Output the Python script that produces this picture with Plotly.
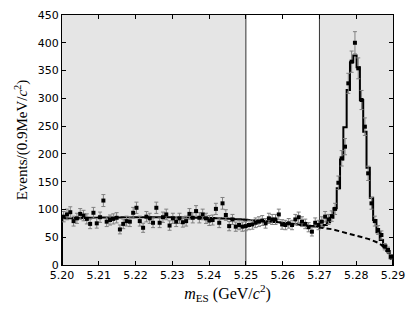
import numpy as np
import plotly.graph_objects as go

# ---- data ----
bin_lo = 5.200
bin_width = 0.0009
n_bins = 100

events = [87, 91, 95, 79, 84, 92, 89, 83, 74, 94,
          75, 86, 116, 78, 81, 83, 85, 64, 74, 79,
          78, 94, 103, 79, 67, 87, 84, 76, 103, 76,
          86, 91, 71, 84, 78, 84, 77, 79, 92, 85,
          97, 85, 91, 84, 80, 81, 101, 76, 111, 90,
          70, 82, 69, 72, 69, 70, 72, 73, 76, 78,
          80, 75, 84, 82, 82, 91, 73, 72, 75, 72,
          82, 86, 78, 74, 68, 60, 76, 72, 78, 87,
          82, 88, 101, 148, 192, 213, 327, 366, 400, 354,
          297, 249, 165, 111, 79, 63, 54, 33, 27, 15]

background = [84.0, 84.1, 84.3, 84.4, 84.5, 84.6, 84.7, 84.9, 85.0, 85.1,
              85.2, 85.3, 85.4, 85.5, 85.5, 85.6, 85.7, 85.7, 85.8, 85.8,
              85.9, 85.9, 85.9, 86.0, 86.0, 86.0, 86.0, 86.0, 85.9, 85.9,
              85.9, 85.9, 85.8, 85.8, 85.7, 85.6, 85.5, 85.4, 85.3, 85.2,
              85.1, 85.0, 84.9, 84.7, 84.6, 84.4, 84.2, 84.0, 83.8, 83.5,
              83.1, 82.8, 82.5, 82.2, 81.8, 81.5, 81.1, 80.7, 80.3, 79.9,
              79.4, 78.9, 78.4, 77.9, 77.4, 76.8, 76.2, 75.6, 74.9, 74.2,
              73.5, 72.7, 71.9, 71.1, 70.2, 69.3, 68.5, 67.7, 67.0, 66.5,
              66.0, 64.5, 63.0, 61.5, 60.0, 58.2, 56.5, 54.8, 53.0, 51.5,
              50.0, 48.5, 47.0, 45.0, 43.0, 40.0, 36.0, 30.0, 22.0, 10.0]

fit_total = [84.0, 84.1, 84.3, 84.4, 84.5, 84.6, 84.7, 84.9, 85.0, 85.1,
             85.2, 85.3, 85.4, 85.5, 85.5, 85.6, 85.7, 85.7, 85.8, 85.8,
             85.9, 85.9, 85.9, 86.0, 86.0, 86.0, 86.0, 86.0, 85.9, 85.9,
             85.9, 85.9, 85.8, 85.8, 85.7, 85.6, 85.5, 85.4, 85.3, 85.2,
             85.1, 85.0, 84.9, 84.7, 84.6, 84.4, 84.2, 84.0, 83.8, 83.5,
             83.1, 82.8, 82.5, 82.2, 81.8, 81.5, 81.1, 80.7, 80.3, 79.9,
             79.4, 78.9, 78.4, 77.9, 77.4, 76.8, 76.2, 75.6, 74.9, 74.2,
             73.5, 72.8, 72.0, 71.3, 70.6, 70.0, 69.5, 69.0, 69.5, 72.0,
             77.0, 85.0, 102.0, 138.0, 190.0, 248.0, 315.0, 365.0, 377.0, 356.0,
             297.0, 240.0, 175.0, 121.0, 81.0, 59.0, 45.0, 35.0, 25.0, 12.0]

sideband_regions = [(5.20, 5.25), (5.27, 5.29)]
region_lines = [5.25, 5.27]
x_ticks = [5.20, 5.21, 5.22, 5.23, 5.24, 5.25, 5.26, 5.27, 5.28, 5.29]
x_tick_labels = ["5.20", "5.21", "5.22", "5.23", "5.24", "5.25", "5.26", "5.27", "5.28", "5.29"]
y_ticks = [0, 50, 100, 150, 200, 250, 300, 350, 400, 450]

# ---- derived ----
edges = bin_lo + bin_width * np.arange(n_bins + 1)
centers = edges[:-1] + bin_width / 2
ev = np.array(events, dtype=float)
err = np.sqrt(ev)

fig = go.Figure()

# fit (step histogram)
fx = [edges[0]] + list(edges[:-1]) + [edges[-1], edges[-1]]
fy = [0] + list(fit_total) + [fit_total[-1], 0]
fig.add_trace(go.Scatter(x=fx, y=fy, mode="lines", line=dict(color="black", width=2, shape="hv"),
                         showlegend=False, hoverinfo="skip", cliponaxis=False))

# background (dashed) in the signal region
start = 77
fig.add_trace(go.Scatter(x=centers[start:], y=background[start:], mode="lines",
                         line=dict(color="black", width=2, dash="5px,3px"), showlegend=False))

# data points
fig.add_trace(go.Scatter(x=centers, y=ev, mode="markers",
                         marker=dict(symbol="square", size=4, color="black"),
                         error_y=dict(type="data", array=err, color="#808080", thickness=1, width=2),
                         showlegend=False))

shapes = []
for a, b in sideband_regions:
    shapes.append(dict(type="rect", xref="x", yref="paper", x0=a, x1=b, y0=0, y1=1,
                       fillcolor="#e5e5e5", line=dict(width=0), layer="below"))
for v in region_lines:
    shapes.append(dict(type="line", xref="x", yref="paper", x0=v, x1=v, y0=0, y1=1,
                       line=dict(color="#333333", width=1), layer="below"))

fig.update_layout(
    width=415, height=312,
    margin=dict(l=62, r=22, t=15, b=47),
    paper_bgcolor="white", plot_bgcolor="white",
    shapes=shapes,
    font=dict(family="DejaVu Sans", size=11, color="black"),
)
fig.update_xaxes(range=[5.20, 5.29], tickvals=x_ticks, ticktext=x_tick_labels, automargin=False,
                 ticks="inside", ticklen=4, tickcolor="black", showline=True, linecolor="black",
                 linewidth=1, mirror="ticks", showgrid=False, zeroline=False,
                 title=dict(text="<i>m</i><sub>ES</sub> (GeV/<i>c</i><sup>2</sup>)",
                            font=dict(family="Liberation Serif", size=16), standoff=3))
fig.update_yaxes(range=[0, 450], tickvals=y_ticks, automargin=False,
                 ticks="inside", ticklen=4, tickcolor="black", showline=True, linecolor="black",
                 linewidth=1, mirror="ticks", showgrid=False, zeroline=False,
                 title=dict(text="Events/(0.9MeV/<i>c</i><sup>2</sup>)",
                            font=dict(family="Liberation Serif", size=15), standoff=6))

fig.write_html("out.html", config={"displayModeBar": False},
               post_script="document.body.style.margin='0px';document.body.style.overflow='hidden';")
